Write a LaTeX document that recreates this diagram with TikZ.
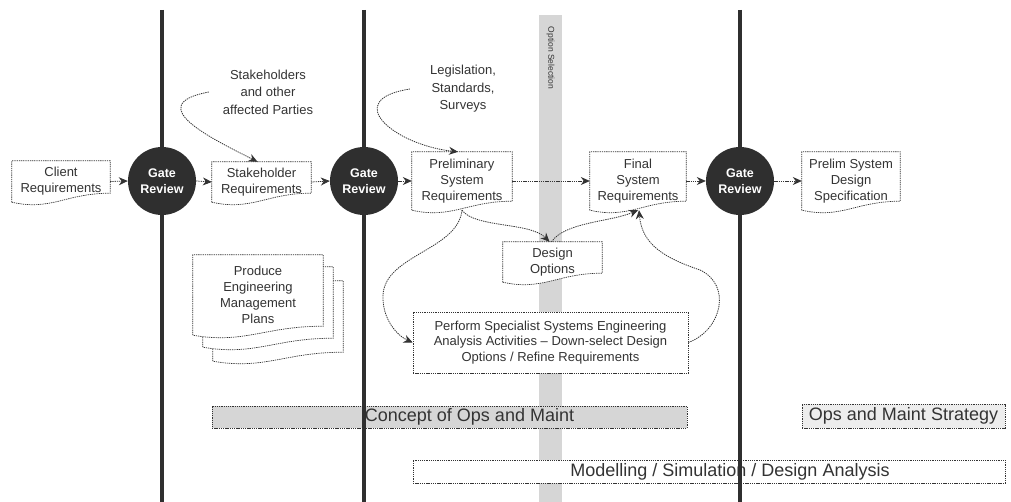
\documentclass[tikz,border=0pt]{standalone}
\usepackage{fontspec}
\setmainfont{Liberation Sans}
\usetikzlibrary{arrows.meta,calc}
\pgfdeclarelayer{bg}
\pgfdeclarelayer{shp}
\pgfsetlayers{bg,shp,main}

\definecolor{ink}{HTML}{333333}
\definecolor{gatefill}{HTML}{2F2F2F}
\definecolor{barfill}{HTML}{D6D6D6}
\definecolor{lightfill}{HTML}{EDEDED}

% document outline with a wavy lower edge, built on a node's anchors
\newcommand\docpath[1]{(#1.south west) -- (#1.north west) -- (#1.north east)
  -- ([yshift=9pt]#1.south east)
  .. controls ($(#1.south west)!0.55!(#1.south east)+(0,9pt)$)
  and ($(#1.south west)!0.4!(#1.south east)+(0,-9pt)$) .. (#1.south west) -- cycle}
\newcommand\docoutline[1]{\begin{pgfonlayer}{shp}\filldraw[outline] \docpath{#1};\end{pgfonlayer}}

\tikzset{
  outline/.style={draw=ink, fill=white, line width=0.7pt, dash pattern=on 1.3pt off 0.9pt},
  doctext/.style={inner sep=0pt, align=center, text=ink, font=\fontsize{13}{16}\selectfont},
  gate/.style={circle, fill=gatefill, minimum size=68, inner sep=0pt, text=white, align=center,
    font=\fontsize{12.5}{15.5}\selectfont\bfseries},
  gateline/.style={draw=gatefill, line width=3.5pt},
  note/.style={align=center, text=ink, inner sep=0pt, font=\fontsize{13}{17.5}\selectfont},
  taskbox/.style={outline, inner sep=0pt, align=center, text=ink, font=\fontsize{13}{15.5}\selectfont},
  band/.style={outline, inner sep=0pt, text=ink, font=\fontsize{18}{20}\selectfont},
  conn/.style={draw=ink, line width=0.8pt, dash pattern=on 1.3pt off 0.9pt,
    -{Stealth[length=9pt,width=8pt]}},
}

\begin{document}
\begin{tikzpicture}[x=1pt,y=-1pt]
\useasboundingbox (0,0) rectangle (1011,502);

% option selection band behind everything
\begin{pgfonlayer}{bg}
  \fill[barfill] (539,15) rectangle (562,502);
\end{pgfonlayer}
\node[rotate=-90, text=ink, inner sep=0pt, font=\fontsize{8.5}{9}\selectfont] (optsel) at (550.5,58) {Option Selection};

% documents along the main flow
\node[doctext, minimum width=98, minimum height=41] (client) at (61,181.5) {Client\\Requirements};
\docoutline{client}
\node[doctext, minimum width=99, minimum height=40] (sreq) at (261.5,182) {Stakeholder\\Requirements};
\docoutline{sreq}
\node[doctext, minimum width=100, minimum height=58] (prelim) at (462,181) {Preliminary\\System\\Requirements};
\docoutline{prelim}
\node[doctext, minimum width=96, minimum height=58] (final) at (638,181) {Final\\System\\Requirements};
\docoutline{final}
\node[doctext, minimum width=98, minimum height=58] (spec) at (851,181) {Prelim System\\Design\\Specification};
\docoutline{spec}
\node[doctext, minimum width=99, minimum height=40] (dopt) at (552.5,262) {Design\\Options};
\docoutline{dopt}

% stacked management plans
\node[minimum width=130, minimum height=80, inner sep=0pt] (plansc) at (278,321) {};
\docoutline{plansc}
\node[minimum width=130, minimum height=80, inner sep=0pt] (plansb) at (268,307) {};
\docoutline{plansb}
\node[doctext, minimum width=130, minimum height=80] (plans) at (258,295) {Produce\\Engineering\\Management\\Plans};
\docoutline{plans}

% rectangular boxes and bands
\node[taskbox, minimum width=275, minimum height=61] (perform) at (550.5,342.5)
  {Perform Specialist Systems Engineering\\Analysis Activities -- Down-select Design\\Options / Refine Requirements};
\node[band, fill=barfill, minimum width=475, minimum height=22] (concept) at (449.5,417)
  {\hspace*{40pt}Concept of Ops and Maint};
\node[band, fill=lightfill, minimum width=203, minimum height=24] (strategy) at (903.5,416)
  {Ops and Maint Strategy};
\node[band, minimum width=592, minimum height=23] (model) at (709,471.5)
  {\hspace*{42pt}Modelling / Simulation / Design Analysis};

% gate lines and gate reviews
\draw[gateline] (162,10) -- (162,502);
\draw[gateline] (364,10) -- (364,502);
\draw[gateline] (740,10) -- (740,502);
\node[gate] (gate1) at (162,181) {Gate\\Review};
\node[gate] (gate2) at (364,181) {Gate\\Review};
\node[gate] (gate3) at (740,181) {Gate\\Review};

% external inputs
\node[note] (stk) at (268,92) {Stakeholders\\and other\\affected Parties};
\node[note] (leg) at (463,89) {Legislation,\\Standards,\\Surveys};

% main flow
\draw[conn] (client.east) -- (gate1.west);
\draw[conn] (gate1.east) -- (sreq.west);
\draw[conn] (sreq.east) -- (gate2.west);
\draw[conn] (gate2.east) -- (prelim.west);
\draw[conn] (prelim.east) -- (final.west);
\draw[conn] (final.east) -- (gate3.west);
\draw[conn] (gate3.east) -- (spec.west);

% curved connectors
\draw[conn] ([xshift=-14]stk.west) .. controls (140,105) and (215,140) .. ([xshift=-4]sreq.north);
\draw[conn] ([xshift=-20]leg.west) .. controls (340,100) and (395,145) .. ([xshift=-4]prelim.north);
\draw[conn] (prelim.south) .. controls (475,228) and (530,222) .. ([xshift=-3]dopt.north);
\draw[conn] ([xshift=-1]dopt.north) .. controls (565,222) and (610,222) .. (final.south);
\draw[conn] (prelim.south) .. controls (458,250) and (385,255) .. (383,295)
  .. controls (382,320) and (398,336) .. (perform.west);
\draw[conn] (perform.east) .. controls (722,330) and (732,285) .. (700,270)
  .. controls (665,258) and (642,245) .. ([xshift=1]final.south);
\end{tikzpicture}
\end{document}
